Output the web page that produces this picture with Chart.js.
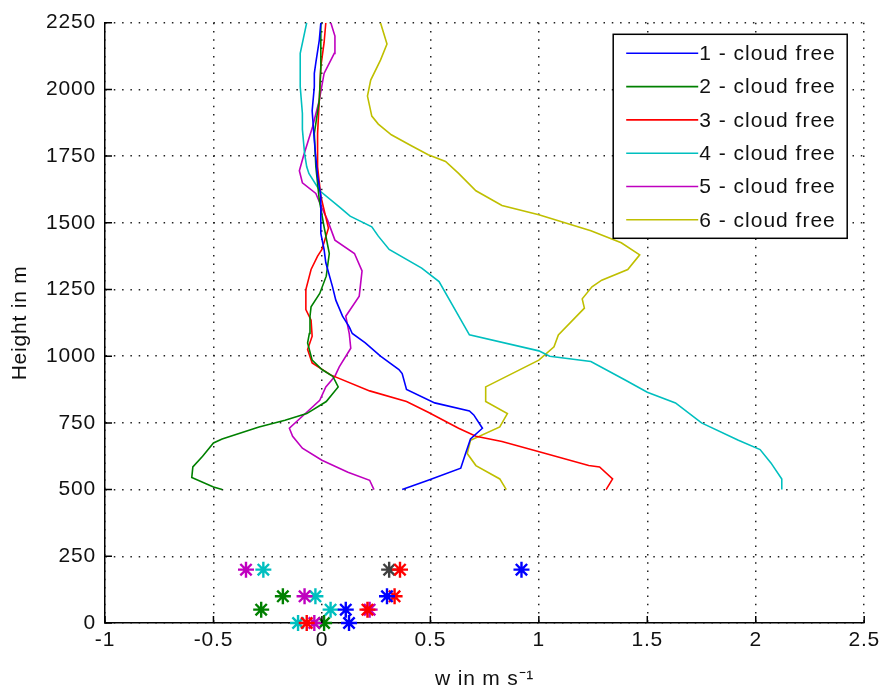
<!DOCTYPE html>
<html><head><meta charset="utf-8">
<script src="https://cdn.jsdelivr.net/npm/chart.js@4/dist/chart.umd.min.js"></script>
<style>html,body{margin:0;padding:0;background:#fff;}#wrap{width:885px;height:693px;}</style>
</head><body><div id="wrap"><canvas id="c" width="885" height="693"></canvas></div>
<script>
// ---- data ----
const seriesLabels = ['1 - cloud free','2 - cloud free','3 - cloud free','4 - cloud free','5 - cloud free','6 - cloud free'];
const xTickValues = [-1,-0.5,0,0.5,1,1.5,2,2.5];
const yTickValues = [0,250,500,750,1000,1250,1500,1750,2000,2250];

const h1 = [500,535,580,630,690,730,780,795,825,875,935,950,1000,1050,1085,1110,1150,1210,1260,1350,1400,1460,1510,1600,1635,1675,1760,1810,1920,2010,2060,2100,2185,2250];
const w1 = [0.37,0.49,0.64,0.66,0.685,0.74,0.70,0.68,0.52,0.39,0.37,0.355,0.27,0.20,0.14,0.126,0.095,0.064,0.049,0.018,0.01,-0.005,-0.005,-0.005,-0.012,-0.02,-0.03,-0.035,-0.045,-0.035,-0.035,-0.028,-0.012,-0.005];

const h2 = [500,510,545,585,625,675,690,735,760,785,830,885,925,950,985,1050,1085,1150,1185,1235,1300,1385,1485,1585,1710,1835,1960,2085,2250];
const w2 = [-0.46,-0.50,-0.60,-0.595,-0.55,-0.50,-0.46,-0.29,-0.17,-0.07,0.02,0.075,0.05,0.0,-0.045,-0.066,-0.058,-0.055,-0.05,-0.01,0.02,0.034,0.01,-0.012,-0.028,-0.035,-0.012,-0.005,-0.005];

const h3 = [500,540,585,590,640,680,700,730,790,830,870,930,975,1025,1075,1135,1175,1250,1325,1375,1400,1480,1600,1710,1835,1960,2085,2175,2250];
const w3 = [1.31,1.34,1.28,1.23,1.01,0.83,0.71,0.63,0.49,0.39,0.22,0.04,-0.045,-0.066,-0.045,-0.05,-0.074,-0.074,-0.05,-0.02,0.0,0.03,-0.005,-0.02,-0.02,-0.012,-0.005,0.01,0.018];

const h4 = [500,540,600,650,685,750,825,865,910,980,1000,1020,1080,1280,1330,1400,1450,1485,1525,1560,1620,1685,1710,1760,1850,1910,2010,2085,2135,2250];
const w4 = [2.12,2.12,2.07,2.02,1.92,1.75,1.63,1.50,1.40,1.24,1.05,1.0,0.68,0.54,0.46,0.31,0.26,0.23,0.13,0.08,-0.01,-0.06,-0.07,-0.08,-0.09,-0.09,-0.10,-0.10,-0.10,-0.07];

const h5 = [500,535,565,610,655,700,730,790,835,885,925,960,1030,1085,1150,1225,1320,1385,1435,1510,1550,1610,1650,1695,1750,1860,1960,2060,2135,2200,2250];
const w5 = [0.24,0.22,0.12,0.0,-0.09,-0.135,-0.15,-0.07,-0.01,0.018,0.06,0.08,0.133,0.126,0.11,0.172,0.185,0.15,0.06,0.026,0.003,-0.028,-0.09,-0.104,-0.085,-0.043,-0.012,0.01,0.057,0.06,0.041];

const h6 = [500,540,590,635,685,735,785,830,885,985,1035,1080,1180,1215,1260,1285,1325,1380,1425,1470,1530,1565,1620,1685,1730,1755,1790,1830,1870,1900,1975,2035,2110,2170,2250];
const w6 = [0.85,0.82,0.71,0.67,0.685,0.82,0.855,0.755,0.755,1.0,1.07,1.09,1.21,1.20,1.245,1.29,1.41,1.465,1.38,1.24,1.0,0.83,0.71,0.63,0.57,0.49,0.41,0.32,0.26,0.23,0.21,0.225,0.27,0.30,0.27];

// surface / low-level measurements (asterisks)
const starBlueW = [0.92,0.30,0.11,0.125];   const starBlueH = [200,100,50,0];
const starGreenW = [-0.18,-0.28,0.01];      const starGreenH = [100,50,0];
const starRedW = [0.36,0.335,0.21,-0.07];   const starRedH = [200,100,50,0];
const starCyanW = [-0.27,-0.03,0.04,-0.11]; const starCyanH = [200,100,50,0];
const starMagW = [-0.35,-0.08,0.22,-0.035]; const starMagH = [200,100,50,0];
const starBlackW = [0.31];                  const starBlackH = [200];

// ---- styles ----
const COLORS = ['#0000ff','#008000','#ff0000','#00bfbf','#bf00bf','#bfbf00'];
const BLACK = '#404040';
const FONT = "'Liberation Sans', Arial, sans-serif";
const SPACING = '0.8px';

const pairs = (ws, hs) => ws.map((w, i) => ({x: w, y: hs[i]}));
const lineSets = [[w1,h1],[w2,h2],[w3,h3],[w4,h4],[w5,h5],[w6,h6]];

const datasets = [];
const starSets = [
  [starBlueW, starBlueH, COLORS[0]],
  [starRedW, starRedH, COLORS[2]],
  [starMagW, starMagH, COLORS[4]],
  [starCyanW, starCyanH, COLORS[3]],
  [starGreenW, starGreenH, COLORS[1]],
  [starBlackW, starBlackH, BLACK]
];
lineSets.forEach(([w, h], i) => {
  datasets.push({
    label: seriesLabels[i], data: pairs(w, h), showLine: true,
    borderColor: COLORS[i], backgroundColor: COLORS[i], borderWidth: 1.6,
    pointRadius: 0, tension: 0, isSeries: true
  });
});
starSets.forEach(([w, h, c]) => {
  datasets.push({
    label: '', data: pairs(w, h), showLine: false,
    pointStyle: 'star', pointRadius: 8, pointBorderWidth: 2.4,
    pointBorderColor: c, pointBackgroundColor: c, borderColor: c, clip: false
  });
});

const spacing = {
  id: 'spacing',
  beforeUpdate(chart) { chart.ctx.letterSpacing = SPACING; },
  beforeLayout(chart) { chart.ctx.letterSpacing = SPACING; },
  beforeDraw(chart) { chart.ctx.letterSpacing = SPACING; }
};

const boxLegend = {
  id: 'boxLegend',
  afterDraw(chart) {
    const ctx = chart.ctx, ca = chart.chartArea;
    const bw = 234, bh = 204;
    const x0 = ca.right - 17 - bw, y0 = ca.top + 11.6;
    ctx.save();
    ctx.fillStyle = '#fff';
    ctx.fillRect(x0, y0, bw, bh);
    ctx.strokeStyle = '#000'; ctx.lineWidth = 1.5;
    ctx.strokeRect(x0, y0, bw, bh);
    ctx.font = '21px ' + FONT;
    ctx.letterSpacing = '1px';
    ctx.textBaseline = 'middle'; ctx.textAlign = 'left';
    chart.data.datasets.filter(d => d.isSeries).forEach((d, i) => {
      const y = y0 + 19 + i * 33.3;
      ctx.strokeStyle = d.borderColor; ctx.lineWidth = 1.6;
      ctx.beginPath(); ctx.moveTo(x0 + 13, y); ctx.lineTo(x0 + 85, y); ctx.stroke();
      ctx.fillStyle = '#111';
      ctx.fillText(d.label, x0 + 86, y + 1);
    });
    ctx.restore();
  }
};

const innerTicks = {
  id: 'innerTicks',
  afterDatasetsDraw(chart) {
    const ctx = chart.ctx, ca = chart.chartArea;
    const xs = chart.scales.x, ys = chart.scales.y;
    ctx.save();
    ctx.strokeStyle = '#000'; ctx.lineWidth = 1.5;
    ctx.beginPath();
    xTickValues.forEach(v => { const p = xs.getPixelForValue(v); ctx.moveTo(p, ca.bottom); ctx.lineTo(p, ca.bottom - 7); });
    yTickValues.forEach(v => { const p = ys.getPixelForValue(v); ctx.moveTo(ca.left, p); ctx.lineTo(ca.left + 7, p); });
    ctx.stroke();
    ctx.restore();
  }
};

new Chart(document.getElementById('c'), {
  type: 'scatter',
  data: { datasets },
  options: {
    responsive: false, animation: false, devicePixelRatio: 1,
    layout: { padding: { left: 0, right: 19, top: 22.7, bottom: 0 } },
    plugins: { legend: { display: false }, tooltip: { enabled: false } },
    scales: {
      x: {
        type: 'linear', min: -1, max: 2.5,
        afterBuildTicks: s => { s.ticks = xTickValues.map(v => ({value: v})); },
        afterFit: s => { s.height = 70; },
        ticks: { color: '#111', font: { family: FONT, size: 21 }, padding: 5, maxRotation: 0,
                 callback: v => String(v) },
        grid: { color: '#222', lineWidth: 1.5, drawTicks: false },
        border: { display: true, color: '#000', width: 1.5, dash: [1.5, 6.8] },
        title: { display: true, text: 'w in m s\u207B\u00B9', color: '#111',
                 font: { family: FONT, size: 21 }, padding: { top: 0, bottom: 1 } }
      },
      y: {
        type: 'linear', min: 0, max: 2250,
        afterBuildTicks: s => { s.ticks = yTickValues.map(v => ({value: v})); },
        afterFit: s => { s.width = 105; },
        ticks: { color: '#111', font: { family: FONT, size: 21 }, padding: 9,
                 callback: v => String(v) },
        grid: { color: '#222', lineWidth: 1.5, drawTicks: false },
        border: { display: true, color: '#000', width: 1.5, dash: [1.5, 6.8] },
        title: { display: true, text: 'Height in m', color: '#111',
                 font: { family: FONT, size: 21 }, padding: { top: 8, bottom: 0 } }
      }
    }
  },
  plugins: [spacing, innerTicks, boxLegend]
});
</script>
</body></html>
